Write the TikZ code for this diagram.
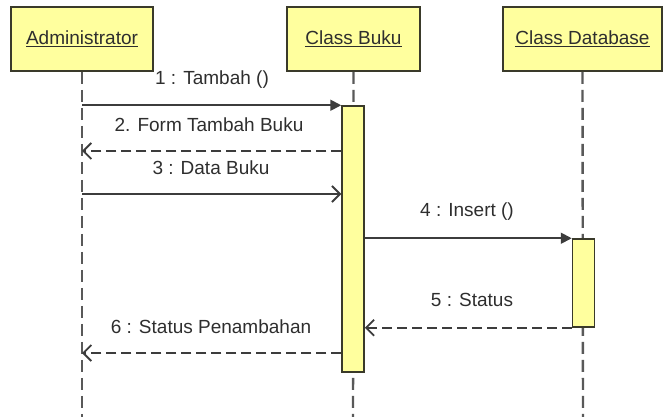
\documentclass[tikz,border=0pt]{standalone}
\usepackage{fontspec}
\setmainfont{Liberation Sans}
\usetikzlibrary{arrows.meta}
\definecolor{boxyellow}{HTML}{FFFF9E}
\definecolor{objline}{HTML}{3A3A2A}
\definecolor{linegray}{HTML}{3C3C3C}
\definecolor{textgray}{HTML}{2E2E2E}

\begin{document}
\begin{tikzpicture}[x=1pt,y=-1pt,
	obj/.style={draw=objline,fill=boxyellow,line width=1.8pt,minimum height=64pt,inner sep=0pt,text=textgray,font=\fontsize{19}{22}\selectfont},
	act/.style={draw=objline,fill=boxyellow,line width=1.5pt,minimum width=22pt,inner sep=0pt},
	life/.style={draw=linegray!85,line width=2.4pt,dash pattern=on 12pt off 6pt},
	call/.style={draw=linegray,line width=1.8pt,-{Triangle[length=11pt,width=11pt]}},
	msg/.style={draw=linegray,line width=1.8pt,-{Straight Barb[length=8pt,width=16pt]}},
	reply/.style={msg,dash pattern=on 10pt off 5pt},
	lbl/.style={text=textgray,inner sep=1pt,font=\fontsize{19}{22}\selectfont}]
				\useasboundingbox (0,0) rectangle (670,417);
				\node[obj,minimum width=142pt] (admin) at (82,39) {\underline{Administrator}};
				\node[obj,minimum width=133pt] (buku) at (353.5,39) {\underline{Class Buku}};
				\node[obj,minimum width=159pt] (db) at (582.5,39) {\underline{Class Database}};
				\coordinate (adminEnd) at (82,417);
				\coordinate (bukuEnd) at (353,417);
				\coordinate (dbEnd) at (583,417);
				\draw[life] (admin.south) -- (adminEnd);
				\draw[life] (buku.south) -- (bukuEnd);
				\draw[life] (db.south) -- (dbEnd);
				\node[act,minimum height=266pt] (bukuAct) at (353,239) {};
				\node[act,minimum height=88pt] (dbAct) at (583.5,283) {};
				\coordinate (a2) at (82,151);
				\coordinate (a3) at (82,194);
				\coordinate (a6) at (82,353);
				\draw[call] (admin.south |- bukuAct.north) -- (bukuAct.north west);
				\draw[reply] (a2 -| bukuAct.west) -- (a2);
				\draw[msg] (a3) -- (a3 -| bukuAct.west);
				\draw[call] (bukuAct.east |- dbAct.north) -- (dbAct.north west);
				\draw[reply] (dbAct.south west) -- (dbAct.south west -| bukuAct.east);
				\draw[reply] (a6 -| bukuAct.west) -- (a6);
				\node[lbl] (l1) at (212,80) {1 : Tambah ()};
				\node[lbl] (l2) at (209,125) {2. Form Tambah Buku};
				\node[lbl] (l3) at (211,168) {3 : Data Buku};
				\node[lbl] (l4) at (467,212) {4 : Insert ()};
				\node[lbl] (l5) at (472,300) {5 : Status};
				\node[lbl] (l6) at (211,327) {6 : Status Penambahan};
			\end{tikzpicture}
\end{document}
